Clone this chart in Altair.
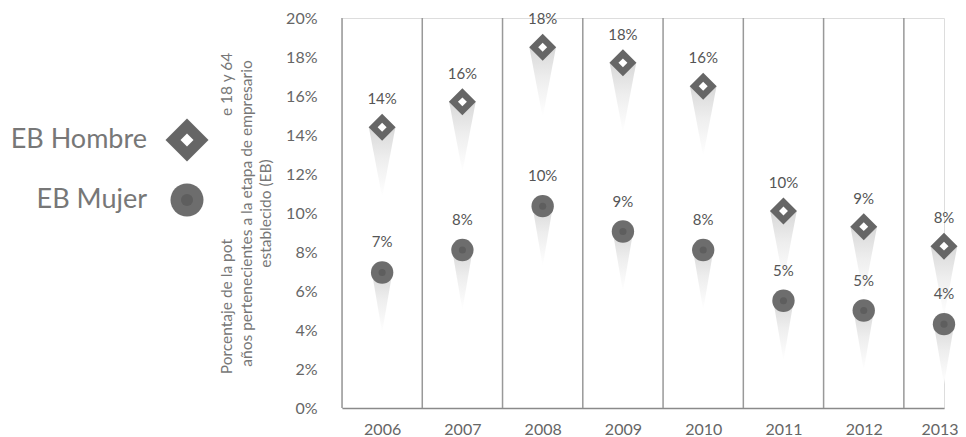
import altair as alt
import pandas as pd

years = [2006, 2007, 2008, 2009, 2010, 2011, 2012, 2013]
hombre = [14.4, 15.7, 18.5, 17.7, 16.5, 10.1, 9.3, 8.3]
mujer = [6.95, 8.1, 10.35, 9.05, 8.1, 5.5, 5.0, 4.3]
hombre_labels = ["14%", "16%", "18%", "18%", "16%", "10%", "9%", "8%"]
mujer_labels = ["7%", "8%", "10%", "9%", "8%", "5%", "5%", "4%"]
series_names = ["EB Hombre", "EB Mujer"]
y_ticks = [0, 2, 4, 6, 8, 10, 12, 14, 16, 18, 20]

NB = "\u00a0"
y_title = [
    "Porcentaje de la pot" + NB * 31 + "e 18 y 64",
    "años pertenecientes a la etapa de empresario",
    "establecido (EB)",
]

df_h = pd.DataFrame({"year": years, "value": hombre, "label": hombre_labels, "series": series_names[0]})
df_m = pd.DataFrame({"year": years, "value": mujer, "label": mujer_labels, "series": series_names[1]})
bounds = pd.DataFrame({"b": [y - 0.5 for y in years]})

W, H = 602, 390
FONT = "Lato"

x_enc = alt.X(
    "year:Q",
    scale=alt.Scale(domain=[2005.5, 2013]),
    axis=alt.Axis(values=years, format="d", grid=False, ticks=False, labelFlush=1, labelFlushOffset=14,
                  labelPadding=13, labelFontSize=16, labelColor="#666",
                  domainColor="#8a8a8a", domainWidth=1.5, title=None),
)
y_enc = alt.Y(
    "value:Q",
    scale=alt.Scale(domain=[0, 20]),
    axis=alt.Axis(values=y_ticks, labelExpr="datum.value + '%'", grid=False, ticks=False,
                  domain=False, labelPadding=25, labelFontSize=16, labelColor="#666",
                  title=y_title, titleFontSize=15.5, titleColor="#777", titleFontWeight="normal",
                  titlePadding=12, titleLineHeight=19.5),
)

grad = alt.LinearGradient(
    gradient="linear",
    stops=[alt.GradientStop(color="#d8d8d8", offset=0),
           alt.GradientStop(color="#eeeeee", offset=0.45),
           alt.GradientStop(color="#ffffff", offset=1)],
    x1=0, x2=0, y1=0, y2=1,
)

rules = alt.Chart(bounds).mark_rule(color="#999", strokeWidth=1.5).encode(
    x=alt.X("b:Q", scale=alt.Scale(domain=[2005.5, 2013])), y=alt.value(0), y2=alt.value(H)
)

cone_h = alt.Chart(df_h).mark_point(
    shape="M -0.19 0 L 0.19 0 L 0 1 Z", filled=True, size=19600, opacity=1, fill=grad, strokeOpacity=0
).encode(x=x_enc, y=y_enc)
cone_m = alt.Chart(df_m).mark_point(
    shape="M -0.17 0 L 0.17 0 L 0 1 Z", filled=True, size=14400, opacity=1, fill=grad, strokeOpacity=0
).encode(x=x_enc, y=y_enc)

dia_outer = alt.Chart(df_h).mark_point(shape="diamond", filled=True, size=729, color="#666", opacity=1).encode(x=x_enc, y=y_enc)
dia_inner = alt.Chart(df_h).mark_point(shape="diamond", filled=True, size=80, color="#fff", opacity=1).encode(x=x_enc, y=y_enc)
circ_outer = alt.Chart(df_m).mark_circle(size=500, color="#6d6d6d", opacity=1).encode(x=x_enc, y=y_enc)
circ_inner = alt.Chart(df_m).mark_circle(size=50, color="#5e5e5e", opacity=1).encode(x=x_enc, y=y_enc)

lab_h = alt.Chart(df_h).mark_text(dy=-28, fontSize=15, color="#555", baseline="middle").encode(x=x_enc, y=y_enc, text="label:N")
lab_m = alt.Chart(df_m).mark_text(dy=-30, fontSize=15, color="#555", baseline="middle").encode(x=x_enc, y=y_enc, text="label:N")

# legend (left)
leg_h = pd.DataFrame({"series": [series_names[0]]})
leg_m = pd.DataFrame({"series": [series_names[1]]})
leg_text_h = alt.Chart(leg_h).mark_text(align="right", baseline="middle", fontSize=27, color="#777").encode(
    text="series:N", x=alt.value(-195), y=alt.value(122))
leg_text_m = alt.Chart(leg_m).mark_text(align="right", baseline="middle", fontSize=27, color="#777").encode(
    text="series:N", x=alt.value(-195), y=alt.value(182))
leg_dia_o = alt.Chart(leg_h).mark_point(shape="diamond", filled=True, size=1849, color="#666", opacity=1).encode(
    x=alt.value(-155), y=alt.value(122))
leg_dia_i = alt.Chart(leg_h).mark_point(shape="diamond", filled=True, size=169, color="#fff", opacity=1).encode(
    x=alt.value(-155), y=alt.value(122))
leg_circ_o = alt.Chart(leg_m).mark_circle(size=1089, color="#6d6d6d", opacity=1).encode(
    x=alt.value(-155), y=alt.value(182))
leg_circ_i = alt.Chart(leg_m).mark_circle(size=144, color="#5e5e5e", opacity=1).encode(
    x=alt.value(-155), y=alt.value(182))

chart = alt.layer(
    rules, cone_h, cone_m, dia_outer, dia_inner, circ_outer, circ_inner, lab_h, lab_m,
    leg_text_h, leg_text_m, leg_dia_o, leg_dia_i, leg_circ_o, leg_circ_i,
).properties(
    width=W, height=H,
    autosize=alt.AutoSizeParams(type="none"),
    padding={"left": 334, "top": 10, "right": 14, "bottom": 30},
).configure_view(stroke=None).configure(font=FONT)

chart.save("out.html", embed_options={"renderer": "svg", "actions": False})
